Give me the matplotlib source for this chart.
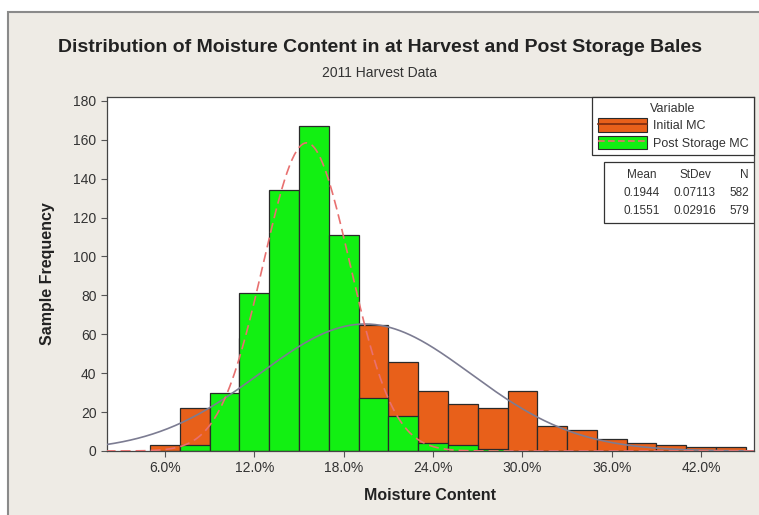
import numpy as np
import matplotlib
matplotlib.use("Agg")
import matplotlib.pyplot as plt
from matplotlib.patches import Patch, Rectangle
from matplotlib.lines import Line2D
from matplotlib.ticker import PercentFormatter

plt.rcParams['font.family'] = ['Liberation Sans', 'DejaVu Sans']

# histogram bins (midpoints, width 2%)
bin_mids = [0.06, 0.08, 0.10, 0.12, 0.14, 0.16, 0.18, 0.20, 0.22, 0.24,
            0.26, 0.28, 0.30, 0.32, 0.34, 0.36, 0.38, 0.40, 0.42, 0.44]
bin_width = 0.02
initial_counts = [3, 22, 26, 58, 72, 80, 61, 65, 46, 31,
                  24, 22, 31, 13, 11, 6, 4, 3, 2, 2]
storage_counts = [0, 3, 30, 81, 134, 167, 111, 27, 18, 4,
                  3, 1, 0, 0, 0, 0, 0, 0, 0, 0]

# summary stats per variable
variables = ['Initial MC', 'Post Storage MC']
means = [0.1944, 0.1551]
stdevs = [0.07113, 0.02916]
counts_n = [582, 579]

x_ticks = [0.06, 0.12, 0.18, 0.24, 0.30, 0.36, 0.42]
y_ticks = [0, 20, 40, 60, 80, 100, 120, 140, 160, 180]

orange = '#E8601A'
green = '#12F012'
edge = '#2a2a2a'
fit_colors = ['#7C7C92', '#E87070']
fit_styles = ['-', (0, (6, 3))]

fig = plt.figure(figsize=(7.59, 5.15), dpi=100)
fig.patch.set_facecolor('white')

# beige graph frame, kept behind the axes
frame = Rectangle((8 / 759, -0.2), 1.2, (515 - 12) / 515 + 0.2,
                  transform=fig.transFigure, facecolor='#EEEBE5',
                  edgecolor='#8a8a8a', linewidth=1.5)
frame.set_zorder(-10)
fig.patches.append(frame)

ax = fig.add_axes([107 / 759, 64 / 515, 647 / 759, 354 / 515])
ax.set_facecolor('white')

mids = np.array(bin_mids)
for cnts, col in [(initial_counts, orange), (storage_counts, green)]:
    c = np.array(cnts)
    keep = c > 0
    ax.bar(mids[keep], c[keep], width=bin_width, color=col,
           edgecolor=edge, linewidth=0.9, zorder=2)

# fitted normal curves scaled to counts
xs = np.linspace(0.0, 0.5, 600)
for m, s, n, col, ls in zip(means, stdevs, counts_n, fit_colors, fit_styles):
    ys = n * bin_width / (s * np.sqrt(2 * np.pi)) * np.exp(-0.5 * ((xs - m) / s) ** 2)
    ax.plot(xs, ys, color=col, linestyle=ls, linewidth=1.2, zorder=3)

ax.set_xlim(0.0211, 0.4555)
ax.set_ylim(0, 182)
ax.set_xticks(x_ticks)
ax.set_yticks(y_ticks)
ax.xaxis.set_major_formatter(PercentFormatter(xmax=1, decimals=1))
ax.tick_params(direction='out', length=4, width=0.8, colors='#555555',
               labelcolor='#333333', labelsize=10, top=False, right=False)
for sp in ax.spines.values():
    sp.set_color('#444444')
    sp.set_linewidth(0.9)

ax.set_xlabel('Moisture Content', fontsize=11.5, fontweight='bold', color='#222222', labelpad=9)
ax.set_ylabel('Sample Frequency', fontsize=11.5, fontweight='bold', color='#222222', labelpad=13)

fig.text(0.5, 1 - 48 / 515, 'Distribution of Moisture Content in at Harvest and Post Storage Bales',
         ha='center', va='center', fontsize=14, fontweight='bold', color='#222222')
fig.text(0.5, 1 - 73 / 515, '2011 Harvest Data', ha='center', va='center',
         fontsize=10, color='#333333')

# legend with fit line drawn across each patch
handles = []
for fc, col, ls in [(orange, '#7a2a10', '-'), (green, '#E87070', (0, (4, 2)))]:
    handles.append((Patch(facecolor=fc, edgecolor=edge, linewidth=0.8),
                    Line2D([], [], color=col, linestyle=ls, linewidth=1.2)))
leg = ax.legend(handles, variables, title='Variable', loc='upper right',
                bbox_to_anchor=(1.0, 1.0), borderaxespad=0, fontsize=9,
                title_fontsize=9, handlelength=3.9, handleheight=1.25,
                labelspacing=0.3, handletextpad=0.5, borderpad=0.45,
                fancybox=False, framealpha=1, edgecolor='#333333')
leg.get_frame().set_linewidth(0.9)
for t in leg.get_texts():
    t.set_color('#333333')
leg.get_title().set_color('#333333')

# summary table box
x0, x1 = (604 - 107) / 647, 1.0
y0, y1 = (451 - 223) / 354, (451 - 162) / 354
ax.add_patch(Rectangle((x0, y0), x1 - x0, y1 - y0, transform=ax.transAxes,
                       facecolor='white', edgecolor='#333333', linewidth=0.9, zorder=5))
col_x = [(642 - 107) / 647, (695 - 107) / 647, (749 - 107) / 647]
col_ha = ['center', 'center', 'right']
row_y = [(451 - 175) / 354, (451 - 193) / 354, (451 - 211) / 354]
header = ['Mean', 'StDev', 'N']
for j in range(3):
    ax.text(col_x[j], row_y[0], header[j], transform=ax.transAxes, ha=col_ha[j],
            va='center', fontsize=8.5, color='#333333', zorder=6)
for i in range(2):
    vals = [f'{means[i]:.4f}', f'{stdevs[i]:.5f}', f'{counts_n[i]}']
    for j in range(3):
        ax.text(col_x[j], row_y[i + 1], vals[j], transform=ax.transAxes, ha=col_ha[j],
                va='center', fontsize=8.5, color='#333333', zorder=6)

fig.savefig('out.png', dpi=100)
